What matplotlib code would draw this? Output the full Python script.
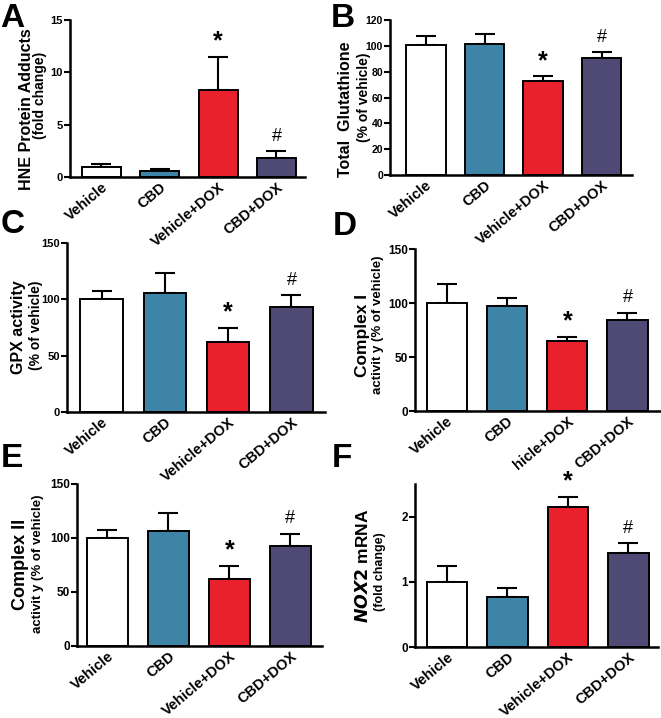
import numpy as np
import matplotlib
matplotlib.use("Agg")
import matplotlib.pyplot as plt
from matplotlib.transforms import ScaledTranslation

plt.rcParams["font.family"] = ["Liberation Sans", "DejaVu Sans"]
plt.rcParams["font.weight"] = "bold"

# Data (mean, upper SEM end)
groups = ["Vehicle", "CBD", "Vehicle+DOX", "CBD+DOX"]
colors = ["#ffffff", "#3d84a6", "#e8212d", "#4f4a75"]

hne_mean = [1.0, 0.6, 8.3, 1.8]
hne_top = [1.2, 0.73, 11.5, 2.45]

gsh_mean = [100.3, 101.5, 72.5, 90.5]
gsh_top = [108.0, 109.0, 76.5, 95.0]

gpx_mean = [100.0, 106.0, 62.0, 93.0]
gpx_top = [107.0, 123.5, 75.0, 103.5]

c1_mean = [100.0, 97.0, 64.5, 84.5]
c1_top = [117.5, 104.5, 68.5, 91.0]

c2_mean = [100.0, 106.5, 62.0, 92.5]
c2_top = [107.0, 123.5, 74.5, 103.5]

nox_mean = [1.0, 0.77, 2.15, 1.44]
nox_top = [1.25, 0.90, 2.30, 1.59]

W, H = 661, 718
fig = plt.figure(figsize=(W / 100, H / 100), dpi=100)


def px_axes(left, top, right, bottom):
    return fig.add_axes([left / W, 1 - bottom / H, (right - left) / W, (bottom - top) / H])


def panel(box, means, tops, ylim, yticks, xlim, labels, ysize=8, sig_off=11):
    ax = px_axes(*box)
    x = np.arange(len(means))
    means = np.array(means)
    err = np.array(tops) - means
    ax.errorbar(x, means, yerr=[np.zeros_like(err), err], fmt="none", ecolor="black",
                elinewidth=1.5, capsize=7, capthick=1.5, zorder=1)
    ax.bar(x, means, width=0.67, color=colors, edgecolor="black", linewidth=1.4, zorder=2)
    ax.set_xlim(*xlim)
    ax.set_ylim(*ylim)
    ax.set_yticks(yticks)
    ax.set_xticks(x)
    ax.set_xticklabels(labels, rotation=40, ha="right", rotation_mode="anchor",
                       fontsize=10.5, fontweight="bold")
    shift = ScaledTranslation(5 / 72, 0, fig.dpi_scale_trans)
    for t in ax.get_xticklabels():
        t.set_transform(t.get_transform() + shift)
    ax.tick_params(axis="x", length=0, pad=2)
    ax.tick_params(axis="y", length=4, width=1.5, labelsize=ysize, pad=1)
    for t in ax.get_yticklabels():
        t.set_fontweight("bold")
    for s in ["top", "right"]:
        ax.spines[s].set_visible(False)
    for s in ["left", "bottom"]:
        ax.spines[s].set_linewidth(1.8)
    ax.patch.set_alpha(0)
    ax.annotate("*", (2, tops[2]), xytext=(0, sig_off), textcoords="offset points",
                ha="center", va="center", fontsize=18, fontweight="bold")
    ax.annotate("#", (3, tops[3]), xytext=(0, sig_off), textcoords="offset points",
                ha="center", va="center", fontsize=13, fontweight="normal")
    return ax


def ptext(x, y, s, **kw):
    fig.text(x / W, 1 - y / H, s, **kw)


panel((70, 20, 305, 177), hne_mean, hne_top, (0, 15), [0, 5, 10, 15], (-0.54, 3.49), groups, 8)
panel((390, 20, 632, 175), gsh_mean, gsh_top, (0, 120), range(0, 121, 20), (-0.615, 3.52), groups, 7.5)
panel((67, 243, 325, 412), gpx_mean, gpx_top, (0, 150), [0, 50, 100, 150], (-0.545, 3.53), groups, 8)
panel((415, 249, 660, 411), c1_mean, c1_top, (0, 150), [0, 50, 100, 150], (-0.53, 3.54),
      ["Vehicle", "CBD", "hicle+DOX", "CBD+DOX"], 8.5)
panel((77, 484, 322, 646), c2_mean, c2_top, (0, 150), [0, 50, 100, 150], (-0.5, 3.52), groups, 8.5)
panel((415, 484, 658, 647), nox_mean, nox_top, (0, 2.5), [0, 1, 2], (-0.53, 3.49), groups, 8.5)

# panel letters
for lx, ly, s in [(0, 3, "A"), (331, 3, "B"), (1, 209, "C"), (333, 211, "D"),
                  (1, 443, "E"), (332, 443, "F")]:
    ptext(lx, ly, s, fontsize=24, fontweight="bold", ha="left", va="top")

# y-axis labels
lab = dict(rotation=90, ha="center", va="center", fontweight="bold")
ptext(27, 109, "HNE Protein Adducts", fontsize=11.5, **lab)
ptext(40, 95, "(fold change)", fontsize=10, **lab)
ptext(346, 109, "Total  Glutathione", fontsize=11.5, **lab)
ptext(364, 97, "(% of vehicle)", fontsize=10, **lab)
ptext(19, 327, "GPX activity", fontsize=11.5, **lab)
ptext(36, 325, "(% of vehicle)", fontsize=10, **lab)
ptext(362, 335, "Complex I", fontsize=12.5, **lab)
ptext(378, 325, "activit y (% of vehicle)", fontsize=9.5, **lab)
ptext(21, 564, "Complex II", fontsize=13, **lab)
ptext(38, 564, "activit y (% of vehicle)", fontsize=9.5, **lab)
ptext(362, 566, r"$\it{NOX2}$ mRNA", fontsize=12.5, **lab)
ptext(380, 572, "(fold change)", fontsize=9, **lab)

fig.savefig("out.png", dpi=100)
